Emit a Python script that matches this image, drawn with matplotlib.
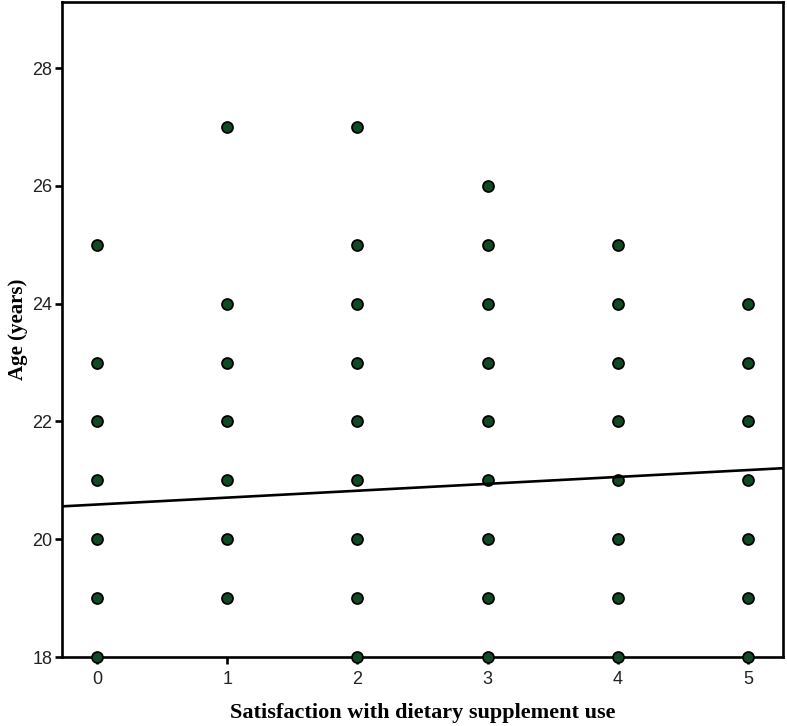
import matplotlib
matplotlib.use('Agg')
import matplotlib.pyplot as plt
import numpy as np

# Satisfaction score -> ages observed at that score
scores = [0, 1, 2, 3, 4, 5]
ages_0 = [25, 23, 22, 21, 20, 19, 18]
ages_1 = [27, 24, 23, 22, 21, 20, 19]
ages_2 = [27, 25, 24, 23, 22, 21, 20, 19, 18]
ages_3 = [26, 25, 24, 23, 22, 21, 20, 19, 18]
ages_4 = [25, 24, 23, 22, 21, 20, 19, 18]
ages_5 = [24, 23, 22, 21, 20, 19, 18]
all_ages = [ages_0, ages_1, ages_2, ages_3, ages_4, ages_5]

# fitted line
intercept = 20.59
slope = 0.117

x_ticks = [0, 1, 2, 3, 4, 5]
y_ticks = [18, 20, 22, 24, 26, 28]

fig = plt.figure(figsize=(7.87, 7.26), dpi=100)
ax = fig.add_axes([0.0788, 0.095, 0.9162, 0.902])

for s, ages in zip(scores, all_ages):
    ax.scatter([s] * len(ages), ages, s=62, color='#0f4a25', edgecolors='black',
               linewidths=1.3, zorder=3, clip_on=False)

ax.set_xlim(-0.27, 5.27)
ax.set_ylim(18, 29.12)
xx = np.array(ax.get_xlim())
ax.plot(xx, intercept + slope * xx, color='black', linewidth=1.9, zorder=4)

ax.set_xticks(x_ticks)
ax.set_yticks(y_ticks)
for sp in ax.spines.values():
    sp.set_linewidth(1.9)
ax.tick_params(direction='out', length=5, width=1.9, labelsize=13, pad=2)
ax.tick_params(axis='x', pad=5)
for lab in ax.get_xticklabels() + ax.get_yticklabels():
    lab.set_family('Liberation Sans')
    lab.set_color('#222222')

ax.set_xlabel('Satisfaction with dietary supplement use', fontsize=16,
              fontweight='bold', family='Liberation Serif', labelpad=11)
ax.set_ylabel('Age (years)', fontsize=15, fontweight='bold',
              family='Liberation Serif')
ax.yaxis.set_label_coords(-0.047, 0.5)

fig.savefig('out.png', dpi=100)
